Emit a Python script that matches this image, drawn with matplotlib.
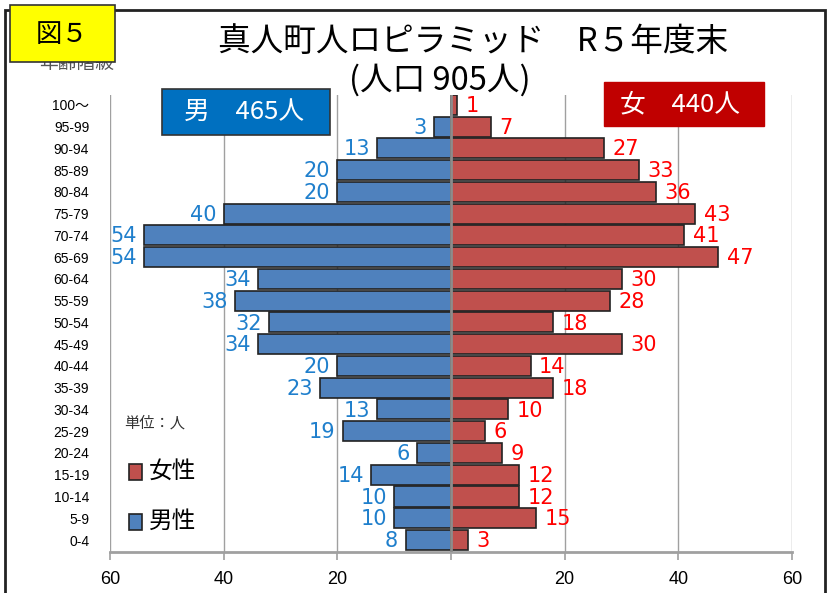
import matplotlib.pyplot as plt
from matplotlib.patches import Rectangle
from matplotlib.ticker import FuncFormatter

plt.rcParams['font.family'] = ['Liberation Sans', 'Noto Sans CJK JP', 'DejaVu Sans']

# data (bottom -> top)
age_groups = ["0-4", "5-9", "10-14", "15-19", "20-24", "25-29", "30-34", "35-39",
              "40-44", "45-49", "50-54", "55-59", "60-64", "65-69", "70-74",
              "75-79", "80-84", "85-89", "90-94", "95-99", "100～"]
male = [8, 10, 10, 14, 6, 19, 13, 23, 20, 34, 32, 38, 34, 54, 54, 40, 20, 20, 13, 3, 0]
female = [3, 15, 12, 12, 9, 6, 10, 18, 14, 30, 18, 28, 30, 47, 41, 43, 36, 33, 27, 7, 1]
x_ticks = [-60, -40, -20, 0, 20, 40, 60]

male_bar = "#4F81BD"
female_bar = "#C0504D"
male_txt = "#1F7FCC"
female_txt = "#FF0000"

W, H = 832, 593
fig = plt.figure(figsize=(W / 100, H / 100), dpi=100)
ax = fig.add_axes([110 / W, 1 - 552 / H, 682 / W, 457 / H])

y = list(range(len(age_groups)))
ax.barh(y, [-m for m in male], height=0.92, color=male_bar, edgecolor="#222222",
        linewidth=1.2, zorder=3)
ax.barh(y, female, height=0.92, color=female_bar, edgecolor="#222222",
        linewidth=1.2, zorder=3)
ax.axvline(0, color="#8C8C8C", lw=2, zorder=4)

for i, (m, f) in enumerate(zip(male, female)):
    if m > 0:
        ax.text(-m - 1.3, i - 0.05, str(m), ha="right", va="center", fontsize=15,
                color=male_txt, family=["DejaVu Sans"], zorder=5)
    if f > 0:
        ax.text(f + 1.5, i - 0.05, str(f), ha="left", va="center", fontsize=15,
                color=female_txt, family=["DejaVu Sans"], zorder=5)

ax.set_xlim(-60, 60)
ax.set_ylim(-0.55, 20.45)
ax.set_xticks(x_ticks)
ax.xaxis.set_major_formatter(FuncFormatter(lambda v, p: "" if v == 0 else f"{abs(int(v))}"))
ax.set_yticks(y)
ax.set_yticklabels(age_groups, fontsize=10)
ax.tick_params(axis="y", length=0, pad=15)
ax.tick_params(axis="x", length=6, color="#A0A0A0", width=1.2, labelsize=13, pad=8)
ax.grid(axis="x", color="#A0A0A0", lw=1, zorder=0)
for s in ["top", "right", "left"]:
    ax.spines[s].set_visible(False)
ax.spines["bottom"].set_color("#A0A0A0")
ax.spines["bottom"].set_linewidth(2)

# outer frame
fig.add_artist(Rectangle((5 / W, -0.02), 820 / W, 1 - 10 / H + 0.02, transform=fig.transFigure,
                         fill=False, edgecolor="#222222", lw=2))

# titles
fig.text(473 / W, 1 - 42 / H, "真人町人ロピラミッド　R５年度末", ha="center", va="center",
         fontsize=23.5, family=["Noto Sans CJK JP"])
fig.text(440 / W, 1 - 80 / H, "(人口 905人)", ha="center", va="center",
         fontsize=23.5, family=["Noto Sans CJK JP"])

# 年齢階級 (partly hidden behind the yellow label)
fig.text(77 / W, 1 - 63 / H, "年齢階級", ha="center", va="center", fontsize=13.5,
         color="#555555", family=["Noto Sans CJK JP"], zorder=1)
fig.add_artist(Rectangle((10 / W, 1 - 62 / H), 105 / W, 57 / H, transform=fig.transFigure,
                         facecolor="#FFFF00", edgecolor="#333333", lw=1.2, zorder=4))
fig.text(62 / W, 1 - 34 / H, "図５", ha="center", va="center", fontsize=19,
         family=["Noto Sans CJK JP"], zorder=5)

# sex totals
fig.add_artist(Rectangle((162 / W, 1 - 135 / H), 168 / W, 46 / H, transform=fig.transFigure,
                         facecolor="#0070C0", edgecolor="#333333", lw=1.2, zorder=6))
fig.text(244 / W, 1 - 112 / H, "男　465人", ha="center", va="center", fontsize=18.5,
         color="white", family=["Noto Sans CJK JP"], zorder=7)
fig.add_artist(Rectangle((604 / W, 1 - 126 / H), 160 / W, 44 / H, transform=fig.transFigure,
                         facecolor="#C00000", edgecolor="#C00000", lw=1, zorder=6))
fig.text(680 / W, 1 - 104 / H, "女　440人", ha="center", va="center", fontsize=18.5,
         color="white", family=["Noto Sans CJK JP"], zorder=7)

# legend
fig.text(124 / W, 1 - 423 / H, "単位：人", ha="left", va="center", fontsize=11,
         color="#333333", family=["Noto Sans CJK JP"])
fig.add_artist(Rectangle((129 / W, 1 - 480 / H), 13 / W, 16 / H, transform=fig.transFigure,
                         facecolor=female_bar, edgecolor="#222222", lw=1.2))
fig.text(149 / W, 1 - 471 / H, "女性", ha="left", va="center", fontsize=17,
         family=["Noto Sans CJK JP"])
fig.add_artist(Rectangle((129 / W, 1 - 530 / H), 13 / W, 16 / H, transform=fig.transFigure,
                         facecolor=male_bar, edgecolor="#222222", lw=1.2))
fig.text(149 / W, 1 - 521 / H, "男性", ha="left", va="center", fontsize=17,
         family=["Noto Sans CJK JP"])

fig.savefig("out.png", dpi=100)
